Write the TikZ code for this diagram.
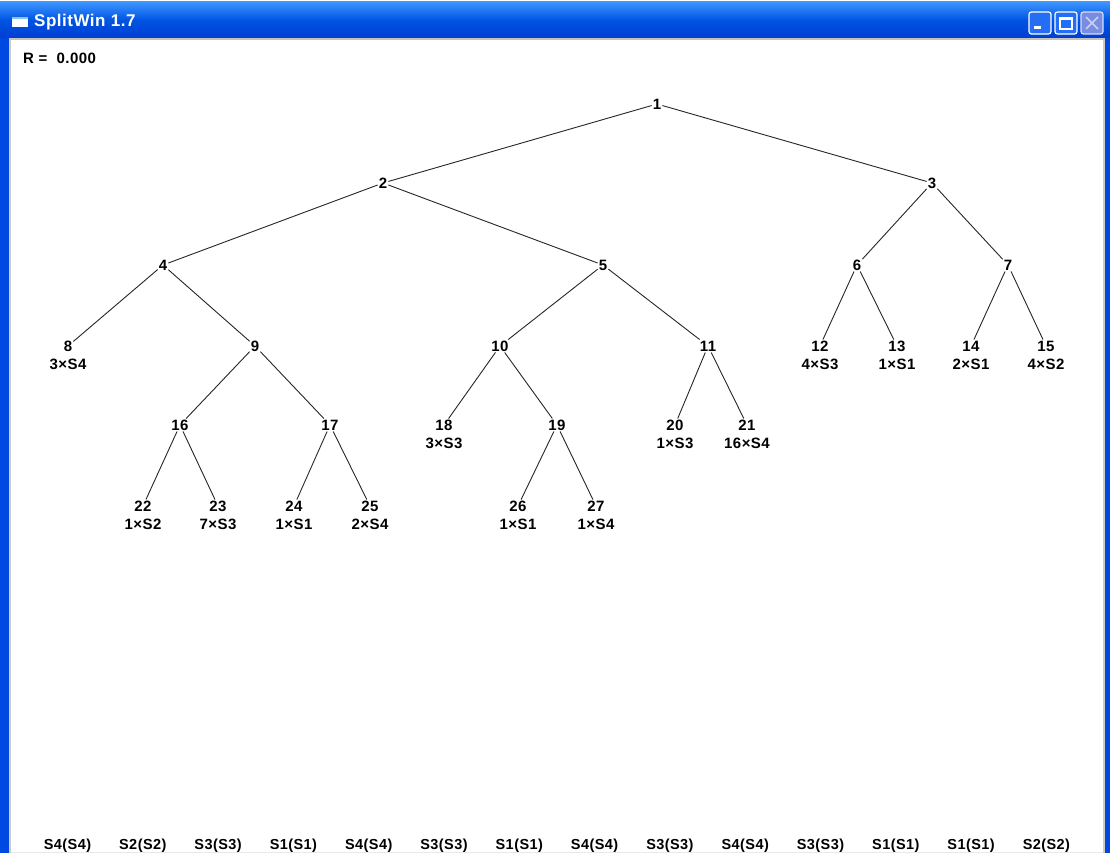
\documentclass[tikz,border=0pt]{standalone}
\usepackage{fontspec}
\setmainfont{Liberation Sans}[LetterSpace=3]
\definecolor{xpblue}{RGB}{0,84,227}
\definecolor{xplight}{RGB}{61,149,255}
\definecolor{xpdark}{RGB}{0,62,210}
\definecolor{xpframe}{RGB}{0,72,226}
\definecolor{xpgrey}{RGB}{172,168,153}
\definecolor{btnface}{RGB}{35,110,245}
\definecolor{btnoff}{RGB}{120,140,225}
\begin{document}
\begin{tikzpicture}[x=1pt,y=-1pt,
  num/.style={font=\fontsize{15}{16}\selectfont\bfseries, inner sep=1pt,
    text height=10.5pt, text depth=0pt},
  cnt/.style={font=\fontsize{15}{16}\selectfont\bfseries, inner sep=1pt,
    text height=10.5pt, text depth=0pt},
  leafrow/.style={font=\fontsize{14.5}{16}\selectfont\bfseries, inner sep=0pt, anchor=base},
  edge/.style={draw=black!85, line width=0.9pt},
  winbtn/.style={draw=white, line width=1.2pt, rounded corners=2.5pt, fill=btnface}]
\useasboundingbox (0,0) rectangle (1110,853);
% window frame and client area
\fill[white] (0,0) rectangle (1110,853);
\shade[top color=xplight, bottom color=xpdark, middle color=xpblue] (0,2) rectangle (1110,38);
\fill[xpframe] (0,38) rectangle (10,853);
\fill[xpframe] (1105,38) rectangle (1110,853);
\fill[xpgrey!60] (9,38) rectangle (11,853);
\fill[xpgrey!60] (1103,38) rectangle (1105,853);
\fill[xpgrey!70] (9,38) rectangle (1105,40);
\fill[xpgrey!25] (11,852) rectangle (1103,853);
% title bar
\fill[white] (12,17) rectangle (28,27);
\fill[xplight!60] (12,17) rectangle (28,19);
\node[anchor=west, text=white, font=\fontsize{17}{18}\selectfont\bfseries, inner sep=0pt] (title) at (34,22) {SplitWin 1.7};
\draw[winbtn] (1029,12) rectangle (1051,34);
\fill[white] (1034,26) rectangle (1041,29);
\draw[winbtn] (1055,12) rectangle (1077,34);
\draw[white, line width=1.2pt] (1060,18) rectangle (1072,29);
\fill[white] (1060,17) rectangle (1072,20);
\draw[winbtn, fill=btnoff, draw=white!70!btnoff] (1081,12) rectangle (1103,34);
\draw[white!60!btnoff, line width=1.5pt] (1086,17) -- (1098,29) (1098,17) -- (1086,29);
% R value
\node[anchor=west, font=\fontsize{15}{16}\selectfont\bfseries, inner sep=0pt] (rval) at (23,58) {R =\ \ 0.000};
% tree nodes
\node[num] (n1) at (657,104) {1};
\node[num] (n2) at (383,183) {2};
\node[num] (n3) at (932,183) {3};
\node[num] (n4) at (163,265) {4};
\node[num] (n5) at (603,265) {5};
\node[num] (n6) at (857,265) {6};
\node[num] (n7) at (1008,265) {7};
\node[num] (n8) at (68,346) {8};
\node[num] (n9) at (255,346) {9};
\node[num] (n10) at (500,346) {10};
\node[num] (n11) at (708,346) {11};
\node[num] (n12) at (820,346) {12};
\node[num] (n13) at (897,346) {13};
\node[num] (n14) at (971,346) {14};
\node[num] (n15) at (1046,346) {15};
\node[num] (n16) at (180,425) {16};
\node[num] (n17) at (330,425) {17};
\node[num] (n18) at (444,425) {18};
\node[num] (n19) at (557,425) {19};
\node[num] (n20) at (675,425) {20};
\node[num] (n21) at (747,425) {21};
\node[num] (n22) at (143,506) {22};
\node[num] (n23) at (218,506) {23};
\node[num] (n24) at (294,506) {24};
\node[num] (n25) at (370,506) {25};
\node[num] (n26) at (518,506) {26};
\node[num] (n27) at (596,506) {27};
% leaf counts
\foreach \n/\t in {8/3×S4, 12/4×S3, 13/1×S1, 14/2×S1, 15/4×S2, 18/3×S3, 20/1×S3,
  21/16×S4, 22/1×S2, 23/7×S3, 24/1×S1, 25/2×S4, 26/1×S1, 27/1×S4}
  \node[cnt, anchor=north, yshift=-5pt] (c\n) at (n\n.south) {\t};
% branches
\foreach \a/\b in {1/2, 1/3, 2/4, 2/5, 3/6, 3/7, 4/8, 4/9, 5/10, 5/11, 6/12, 6/13,
  7/14, 7/15, 9/16, 9/17, 10/18, 10/19, 11/20, 11/21, 16/22, 16/23, 17/24, 17/25,
  19/26, 19/27}
  \draw[edge] (n\a) -- (n\b);
% leaf order along the bottom edge
\foreach \t [count=\i] in {S4(S4), S2(S2), S3(S3), S1(S1), S4(S4), S3(S3), S1(S1),
  S4(S4), S3(S3), S4(S4), S3(S3), S1(S1), S1(S1), S2(S2)}
  \node[leafrow] (b\i) at ({67.5+75.3*(\i-1)},849) {\t};
\end{tikzpicture}
\end{document}
